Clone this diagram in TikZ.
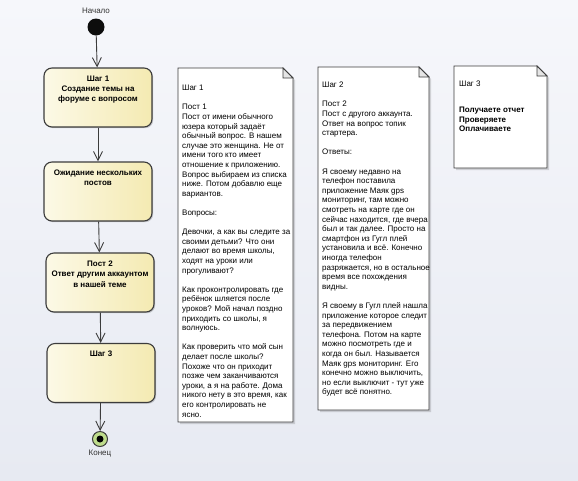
\documentclass[tikz,border=0pt]{standalone}
\usepackage{fontspec}
\setmainfont{Liberation Sans}
\usetikzlibrary{arrows.meta, positioning, shadows}
\definecolor{bgtop}{RGB}{246,247,251}
\definecolor{bgbot}{RGB}{231,234,242}
\definecolor{stepl}{RGB}{252,249,230}
\definecolor{stepr}{RGB}{244,234,178}
\definecolor{edgec}{RGB}{60,60,60}
\definecolor{finalc}{RGB}{190,220,140}

\tikzset{
  stepbox/.style={draw=edgec, line width=1.1pt, rounded corners=8pt,
    minimum width=108pt, minimum height=59pt, left color=stepl, right color=stepr,
    drop shadow={shadow xshift=1.2pt, shadow yshift=-1.2pt, fill=black, opacity=.18}},
  steptext/.style={font=\fontsize{8}{10.4}\selectfont\bfseries, align=center, inner sep=0pt},
  flow/.style={draw=edgec, line width=0.9pt, -{Straight Barb[length=9pt,width=9pt]}},
  notepaper/.style={draw=edgec, line width=0.8pt, fill=white},
  noteshadow/.style={fill=black, opacity=.14},
  notetext/.style={font=\fontsize{8}{9.6}\selectfont, align=left, inner sep=0pt, anchor=north west},
  smalltext/.style={font=\fontsize{8}{9.6}\selectfont, text=black!80, inner sep=0pt}
}

\begin{document}
\begin{tikzpicture}[x=1pt,y=-1pt]
  % background
  \fill[top color=bgtop, bottom color=bgbot] (0,0) rectangle (578,480);
  \useasboundingbox (0,0) rectangle (578,480);

  % start and end
  \node[circle, fill=black!95, minimum size=17pt, inner sep=0pt] (start) at (96,27) {};
  \node[smalltext] (startlbl) at (96,11) {Начало};

  % steps
  \node[stepbox] (s1) at (98,97.5) {};
  \node[steptext, below=8pt of s1.north] (s1t) {Шаг 1\\Создание темы на\\форуме с вопросом};
  \node[stepbox] (s2) at (98,191.5) {};
  \node[steptext, below=8pt of s2.north] (s2t) {Ожидание нескольких\\постов};
  \node[stepbox] (s3) at (100,282.5) {};
  \node[steptext, below=8pt of s3.north] (s3t) {Пост 2\\Ответ другим аккаунтом\\в нашей теме};
  \node[stepbox] (s4) at (101,373) {};
  \node[steptext, below=8pt of s4.north] (s4t) {Шаг 3};

  \node[circle, draw=edgec, line width=1pt, fill=finalc, minimum size=15pt, inner sep=0pt] (stop) at (100,439) {};
  \node[circle, fill=black, minimum size=7pt, inner sep=0pt] (stopdot) at (stop) {};
  \node[smalltext] (stoplbl) at (100,454) {Конец};

  % arrows
  \draw[flow] (start) -- (s1);
  \draw[flow] (s1) -- (s2);
  \draw[flow] (s2) -- (s3);
  \draw[flow] (s3) -- (s4);
  \draw[flow] (s4) -- (stop);

  % note 1
  \fill[noteshadow] (180,70) -- (285,70) -- (295,80) -- (295,424) -- (180,424) -- cycle;
  \draw[notepaper] (178,68) -- (283,68) -- (293,78) -- (293,422) -- (178,422) -- cycle;
  \draw[notepaper, fill=black!10] (283,68) -- (283,78) -- (293,78) -- cycle;
  \node[notetext] (n1) at (182,85) {Шаг 1\\[9.6pt]Пост 1\\Пост от имени обычного\\юзера который задаёт\\обычный вопрос. В нашем\\случае это женщина. Не от\\имени того кто имеет\\отношение к приложению.\\Вопрос выбираем из списка\\ниже. Потом добавлю еще\\вариантов.\\[9.6pt]Вопросы:\\[9.6pt]Девочки, а как вы следите за\\своими детьми? Что они\\делают во время школы,\\ходят на уроки или\\прогуливают?\\[9.6pt]Как проконтролировать где\\ребёнок шляется после\\уроков? Мой начал поздно\\приходить со школы, я\\волнуюсь.\\[9.6pt]Как проверить что мой сын\\делает после школы?\\Похоже что он приходит\\позже чем заканчиваются\\уроки, а я на работе. Дома\\никого нету в это время, как\\его контролировать не\\ясно.};

  % note 2
  \fill[noteshadow] (320,69) -- (421,69) -- (431,79) -- (431,412) -- (320,412) -- cycle;
  \draw[notepaper] (318,67) -- (419,67) -- (429,77) -- (429,410) -- (318,410) -- cycle;
  \draw[notepaper, fill=black!10] (419,67) -- (419,77) -- (429,77) -- cycle;
  \node[notetext] (n2) at (322,82) {Шаг 2\\[9.6pt]Пост 2\\Пост с другого аккаунта.\\Ответ на вопрос топик\\стартера.\\[9.6pt]Ответы:\\[9.6pt]Я своему недавно на\\телефон поставила\\приложение Маяк gps\\мониторинг, там можно\\смотреть на карте где он\\сейчас находится, где вчера\\был и так далее. Просто на\\смартфон из Гугл плей\\установила и всё. Конечно\\иногда телефон\\разряжается, но в остальное\\время все похождения\\видны.\\[9.6pt]Я своему в Гугл плей нашла\\приложение которое следит\\за передвижением\\телефона. Потом на карте\\можно посмотреть где и\\когда он был. Называется\\Маяк gps мониторинг. Его\\конечно можно выключить,\\но если выключит - тут уже\\будет всё понятно.};

  % note 3
  \fill[noteshadow] (456,68) -- (539,68) -- (549,78) -- (549,170) -- (456,170) -- cycle;
  \draw[notepaper] (454,66) -- (537,66) -- (547,76) -- (547,168) -- (454,168) -- cycle;
  \draw[notepaper, fill=black!10] (537,66) -- (537,76) -- (547,76) -- cycle;
  \node[notetext] (n3) at (459,81) {Шаг 3\\[16.4pt]\textbf{Получаете отчет}\\\textbf{Проверяете}\\\textbf{Оплачиваете}};
\end{tikzpicture}
\end{document}
